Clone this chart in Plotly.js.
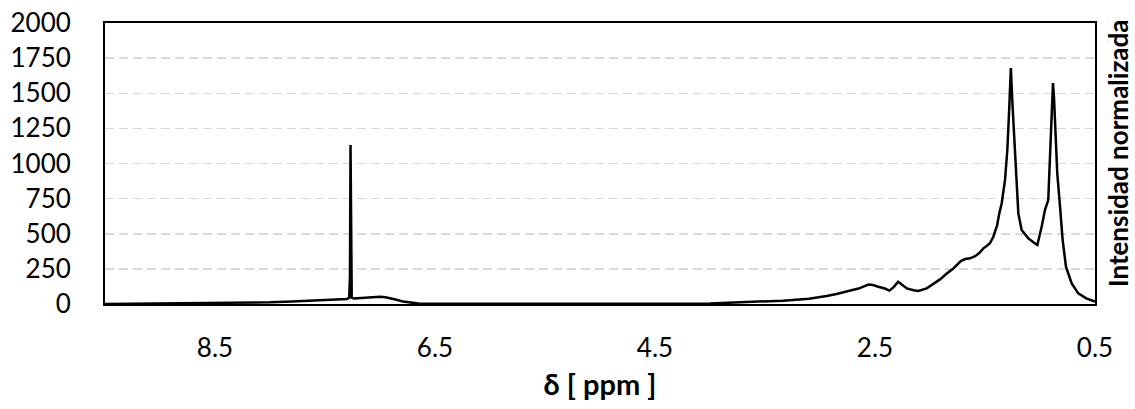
<!DOCTYPE html>
<html>
<head>
<meta charset="utf-8">
<script src="https://cdn.plot.ly/plotly-3.0.1.min.js"></script>
<style>html,body{margin:0;padding:0;background:#fff;}#chart{width:1135px;height:409px;}</style>
</head>
<body>
<div id="chart"></div>
<script>
// chemical shift (ppm) and normalized intensity
const ppm = [9.5, 9.2, 9.0, 8.7, 8.5, 8.2, 8.0, 7.8, 7.6, 7.45, 7.35, 7.30, 7.28, 7.273, 7.268, 7.263, 7.257, 7.24, 7.2, 7.1, 7.0, 6.95, 6.9, 6.85, 6.79, 6.72, 6.65, 6.5, 6.0, 5.0, 4.5, 4.0, 3.79, 3.6, 3.336, 3.1, 3.0, 2.94, 2.85, 2.73, 2.65, 2.56, 2.52, 2.47, 2.41, 2.37, 2.33, 2.29, 2.25, 2.21, 2.15, 2.106, 2.03, 1.97, 1.909, 1.85, 1.788, 1.72, 1.68, 1.636, 1.59, 1.55, 1.515, 1.485, 1.455, 1.424, 1.39, 1.37, 1.348, 1.318, 1.297, 1.279, 1.265, 1.249, 1.227, 1.197, 1.167, 1.106, 1.06, 1.024, 0.985, 0.955, 0.925, 0.905, 0.892, 0.882, 0.873, 0.858, 0.843, 0.818, 0.794, 0.764, 0.712, 0.652, 0.58, 0.5];
const intensity = [0, 2, 3, 4, 5, 8, 12, 18, 25, 30, 33, 36, 45, 200, 1132, 250, 45, 40, 42, 48, 52, 48, 40, 30, 17, 8, 3, 1, 0, 0, 1, 4, 10, 14, 24, 38, 47, 57, 71, 95, 110, 138, 135, 123, 110, 95, 120, 158, 135, 111, 98, 93, 111, 140, 175, 215, 253, 305, 320, 325, 340, 365, 396, 413, 432, 479, 560, 645, 717, 883, 1096, 1404, 1680, 1404, 1048, 645, 527, 467, 440, 420, 550, 669, 740, 1150, 1480, 1573, 1475, 1200, 930, 693, 455, 266, 147, 76, 40, 17];
const xTicks = [8.5, 6.5, 4.5, 2.5, 0.5];
const yTicks = [0, 250, 500, 750, 1000, 1250, 1500, 1750, 2000];

const FONT = 'Lato, "Open Sans", sans-serif';

const trace = {
  x: ppm, y: intensity, type: 'scatter', mode: 'lines',
  line: {color: '#000000', width: 2.5}, hoverinfo: 'skip', showlegend: false
};

const layout = {
  width: 1135, height: 409,
  margin: {l: 105, r: 40, t: 23, b: 105},
  paper_bgcolor: '#ffffff', plot_bgcolor: '#ffffff',
  font: {family: FONT, color: '#000000', size: 26},
  xaxis: {
    range: [9.5, 0.5], tickvals: xTicks, ticktext: xTicks.map(v => v.toFixed(1)),
    showgrid: false, zeroline: false,
    showline: true, mirror: true, linecolor: '#000000', linewidth: 2,
    ticks: '', ticklabelstandoff: 20,
    tickfont: {family: FONT, size: 26, color: '#000000'},
    title: {text: '<b>δ [ ppm ]</b>', font: {family: FONT, size: 29, color: '#000000'}, standoff: 12}
  },
  yaxis: {
    range: [0, 2000], tickvals: yTicks, ticktext: yTicks.map(String),
    showgrid: true, gridcolor: '#d9d9d9', gridwidth: 1.5, griddash: '9px,5px',
    zeroline: false,
    showline: true, mirror: true, linecolor: '#000000', linewidth: 2,
    ticks: '', ticklabelstandoff: 27,
    tickfont: {family: FONT, size: 26, color: '#000000'}
  },
  annotations: [{
    text: '<b>Intensidad normalizada</b>', xref: 'paper', yref: 'paper',
    x: 1, y: 0.537, xanchor: 'left', yanchor: 'middle', xshift: 5,
    textangle: -90, showarrow: false,
    font: {family: FONT, size: 26, color: '#000000'}
  }]
};

Plotly.newPlot('chart', [trace], layout, {displayModeBar: false, staticPlot: true});
</script>
</body>
</html>
